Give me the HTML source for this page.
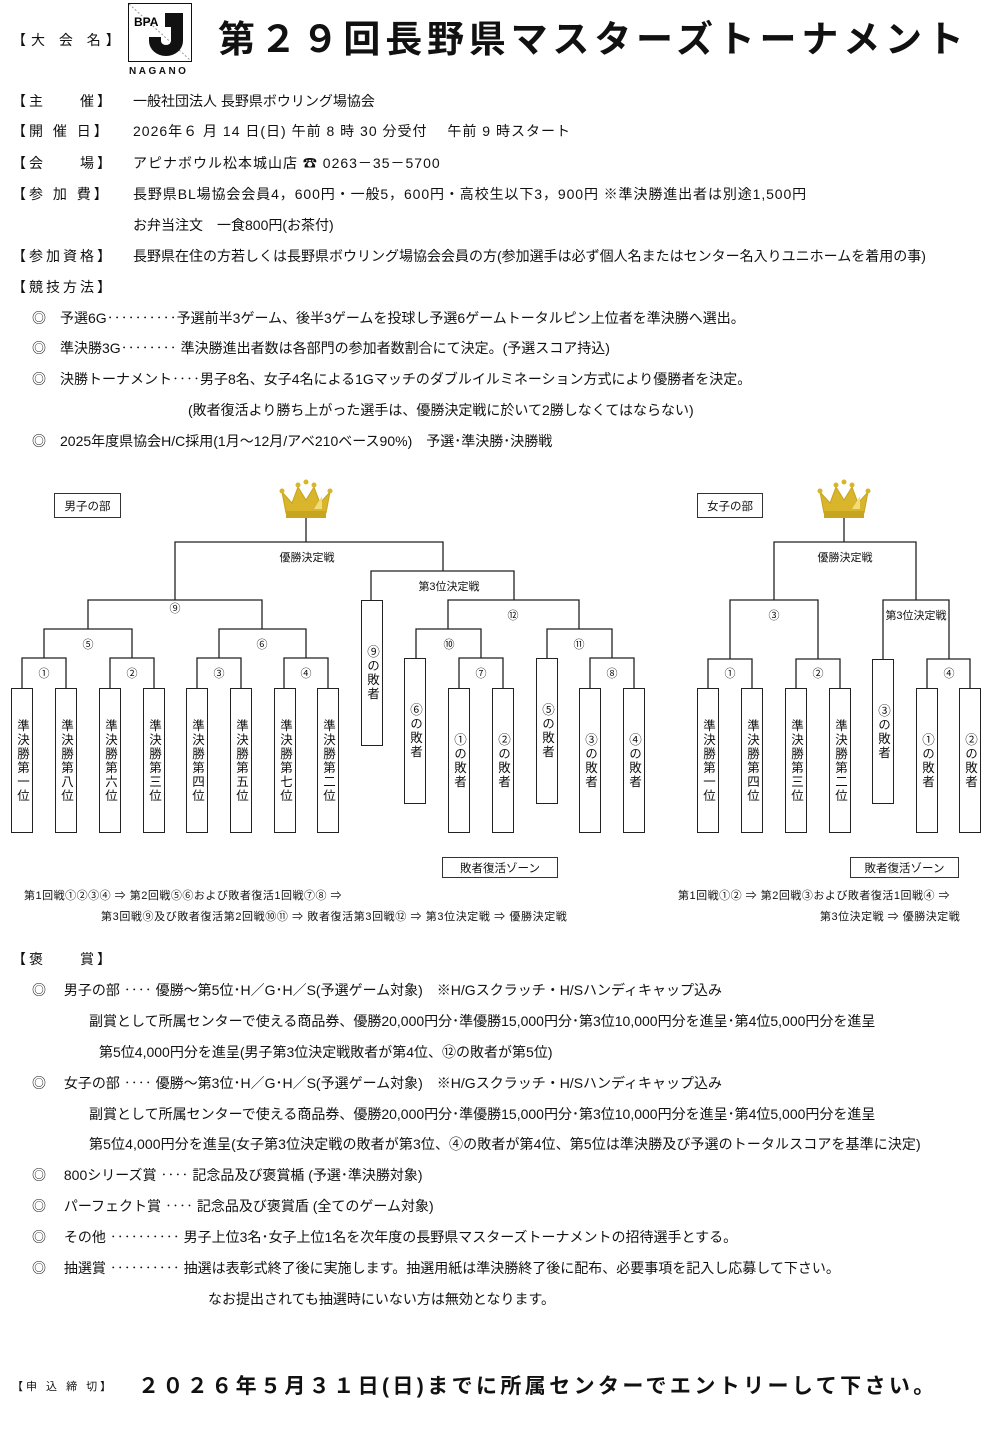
<!DOCTYPE html>
<html><head><meta charset="utf-8"><style>
*{margin:0;padding:0;box-sizing:border-box}
body{width:1000px;height:1442px;background:#fff;position:relative;font-family:"Liberation Sans","Noto Sans CJK JP",sans-serif;color:#111;overflow:hidden}
.t{position:absolute;font-size:14px;line-height:18px;white-space:nowrap}
.h{letter-spacing:3px}
.s{position:absolute;font-size:11px;line-height:14px;white-space:nowrap}
.box{position:absolute;border:1.5px solid #222;background:#fff;display:flex;align-items:center;justify-content:center}
.v{writing-mode:vertical-rl;font-size:12.5px;letter-spacing:1.5px;line-height:14px}
.lbl{position:absolute;border:1.3px solid #333;font-size:11.5px;display:flex;align-items:center;justify-content:center;background:#fff}
</style></head><body>

<div class="t" style="left:12px;top:31px;letter-spacing:5px">【大 会 名】</div>
<div style="position:absolute;left:128px;top:3px;width:64px;height:59px;border:1.5px solid #111">
<svg width="61" height="56" viewBox="0 0 61 56"><line x1="0" y1="0" x2="61" y2="56" stroke="#999" stroke-dasharray="2,2"/>
<text x="5" y="22" font-size="12" font-weight="bold" font-family="Liberation Sans">BPA</text>
<path d="M36 9 h18 v28 a17 15 0 0 1 -34 0 v-4 h12 v4 a5 4 0 0 0 10 0 v-14 h-6z" fill="#111"/>
</svg></div>
<div class="s" style="left:129px;top:65px;font-size:10px;font-weight:bold;letter-spacing:2.5px">NAGANO</div>
<div style="position:absolute;left:218px;top:18px;font-size:37px;font-weight:bold;line-height:44px;letter-spacing:4.8px;white-space:nowrap">第２９回長野県マスターズトーナメント</div>

<div class="t h" style="left:12px;top:92px">【主　　催】</div><div class="t" style="left:133px;top:92px">一般社団法人 長野県ボウリング場協会</div>
<div class="t h" style="left:12px;top:122px">【開 催 日】</div><div class="t" style="left:133px;top:122px;letter-spacing:1px">2026年６ 月 14 日(日) 午前 8 時 30 分受付　 午前 9 時スタート</div>
<div class="t h" style="left:12px;top:154px">【会　　場】</div><div class="t" style="left:133px;top:154px;letter-spacing:1px">アピナボウル松本城山店 ☎ 0263－35－5700</div>
<div class="t h" style="left:12px;top:185px">【参 加 費】</div><div class="t" style="left:133px;top:185px;letter-spacing:0.9px">長野県BL場協会会員4，600円・一般5，600円・高校生以下3，900円 ※準決勝進出者は別途1,500円</div>
<div class="t" style="left:133px;top:216px">お弁当注文　一食800円(お茶付)</div>
<div class="t h" style="left:12px;top:247px">【参加資格】</div><div class="t" style="left:133px;top:247px">長野県在住の方若しくは長野県ボウリング場協会会員の方(参加選手は必ず個人名またはセンター名入りユニホームを着用の事)</div>
<div class="t h" style="left:12px;top:278px">【競技方法】</div>
<div class="t" style="left:32px;top:309px">◎　予選6G‥‥‥‥‥予選前半3ゲーム、後半3ゲームを投球し予選6ゲームトータルピン上位者を準決勝へ選出。</div>
<div class="t" style="left:32px;top:339px">◎　準決勝3G‥‥‥‥ 準決勝進出者数は各部門の参加者数割合にて決定。(予選スコア持込)</div>
<div class="t" style="left:32px;top:370px">◎　決勝トーナメント‥‥男子8名、女子4名による1Gマッチのダブルイルミネーション方式により優勝者を決定。</div>
<div class="t" style="left:188px;top:401px">(敗者復活より勝ち上がった選手は、優勝決定戦に於いて2勝しなくてはならない)</div>
<div class="t" style="left:32px;top:432px">◎　2025年度県協会H/C採用(1月～12月/アベ210ベース90%)　予選･準決勝･決勝戦</div>

<svg style="position:absolute;left:0;top:0" width="1000" height="940">
<g fill="none" stroke="#222" stroke-width="1.3">
<path d="M306 518V542M175 600V542H443V571M371 600V571H514V600M88 629V600H262V629M44 658V629H132V658M219 658V629H306V658M22 688V658H66V688M110 688V658H154V688M197 688V658H241V688M284 688V658H328V688M448 629V600H579V629M416 658V629H481V658M547 658V629H612V658M459 688V658H503V688M590 688V658H634V688"/>
<path d="M844 518V542M774 600V542H916V600M730 659V600H818V659M883 659V600H949V659M708 688V659H752V688M796 688V659H840V688M927 688V659H970V688"/>
</g>
<g font-size="11" text-anchor="middle" fill="#111" font-family="Liberation Sans,Noto Sans CJK JP,sans-serif">
<text x="307" y="561">優勝決定戦</text><text x="449" y="590">第3位決定戦</text>
<text x="175" y="612">⑨</text><text x="88" y="648">⑤</text><text x="262" y="648">⑥</text>
<text x="44" y="677">①</text><text x="132" y="677">②</text><text x="219" y="677">③</text><text x="306" y="677">④</text>
<text x="513" y="619">⑫</text><text x="449" y="648">⑩</text><text x="579" y="648">⑪</text><text x="481" y="677">⑦</text><text x="612" y="677">⑧</text>
<text x="845" y="561">優勝決定戦</text><text x="774" y="619">③</text><text x="916" y="619">第3位決定戦</text>
<text x="730" y="677">①</text><text x="818" y="677">②</text><text x="949" y="677">④</text>
</g>
<g id="cr">
<path d="M282 492 L292 503 L298 487 L306 500 L314 487 L320 503 L330 492 L326 513 H286Z" fill="#d8b52a" stroke="#c8a21c"/>
<rect x="286" y="511" width="40" height="7" fill="#c9a41f"/>
<circle cx="282" cy="491" r="2.5" fill="#d8b52a"/><circle cx="298" cy="485" r="2.5" fill="#d8b52a"/><circle cx="314" cy="485" r="2.5" fill="#d8b52a"/><circle cx="330" cy="491" r="2.5" fill="#d8b52a"/><circle cx="306" cy="482" r="2.5" fill="#d8b52a"/>
<path d="M314 509 L322 496 L322 509Z" fill="#f2dc7a"/>
</g>
<use href="#cr" x="538"/>
</svg>

<div class="lbl" style="left:54px;top:493px;width:67px;height:25px">男子の部</div>
<div class="lbl" style="left:697px;top:493px;width:66px;height:25px">女子の部</div>
<div class="lbl" style="left:442px;top:857px;width:116px;height:21px">敗者復活ゾーン</div>
<div class="lbl" style="left:850px;top:857px;width:109px;height:21px">敗者復活ゾーン</div>

<div class="box" style="left:11px;top:688px;width:22px;height:145px"><span class="v">準決勝第一位</span></div>
<div class="box" style="left:55px;top:688px;width:22px;height:145px"><span class="v">準決勝第八位</span></div>
<div class="box" style="left:99px;top:688px;width:22px;height:145px"><span class="v">準決勝第六位</span></div>
<div class="box" style="left:143px;top:688px;width:22px;height:145px"><span class="v">準決勝第三位</span></div>
<div class="box" style="left:186px;top:688px;width:22px;height:145px"><span class="v">準決勝第四位</span></div>
<div class="box" style="left:230px;top:688px;width:22px;height:145px"><span class="v">準決勝第五位</span></div>
<div class="box" style="left:274px;top:688px;width:22px;height:145px"><span class="v">準決勝第七位</span></div>
<div class="box" style="left:317px;top:688px;width:22px;height:145px"><span class="v">準決勝第二位</span></div>
<div class="box" style="left:361px;top:600px;width:22px;height:146px"><span class="v">⑨の敗者</span></div>
<div class="box" style="left:404px;top:658px;width:22px;height:146px"><span class="v">⑥の敗者</span></div>
<div class="box" style="left:448px;top:688px;width:22px;height:145px"><span class="v">①の敗者</span></div>
<div class="box" style="left:492px;top:688px;width:22px;height:145px"><span class="v">②の敗者</span></div>
<div class="box" style="left:536px;top:658px;width:22px;height:146px"><span class="v">⑤の敗者</span></div>
<div class="box" style="left:579px;top:688px;width:22px;height:145px"><span class="v">③の敗者</span></div>
<div class="box" style="left:623px;top:688px;width:22px;height:145px"><span class="v">④の敗者</span></div>

<div class="box" style="left:697px;top:688px;width:22px;height:145px"><span class="v">準決勝第一位</span></div>
<div class="box" style="left:741px;top:688px;width:22px;height:145px"><span class="v">準決勝第四位</span></div>
<div class="box" style="left:785px;top:688px;width:22px;height:145px"><span class="v">準決勝第三位</span></div>
<div class="box" style="left:829px;top:688px;width:22px;height:145px"><span class="v">準決勝第二位</span></div>
<div class="box" style="left:872px;top:659px;width:22px;height:145px"><span class="v">③の敗者</span></div>
<div class="box" style="left:916px;top:688px;width:22px;height:145px"><span class="v">①の敗者</span></div>
<div class="box" style="left:959px;top:688px;width:22px;height:145px"><span class="v">②の敗者</span></div>

<div class="s" style="left:24px;top:889px;letter-spacing:0.5px">第1回戦①②③④ ⇒ 第2回戦⑤⑥および敗者復活1回戦⑦⑧ ⇒</div>
<div class="s" style="left:101px;top:910px;letter-spacing:0.6px">第3回戦⑨及び敗者復活第2回戦⑩⑪ ⇒ 敗者復活第3回戦⑫ ⇒ 第3位決定戦 ⇒ 優勝決定戦</div>
<div class="s" style="left:678px;top:889px;letter-spacing:0.5px">第1回戦①② ⇒ 第2回戦③および敗者復活1回戦④ ⇒</div>
<div class="s" style="left:820px;top:910px;letter-spacing:0.5px">第3位決定戦 ⇒ 優勝決定戦</div>

<div class="t h" style="left:12px;top:950px">【褒　　賞】</div>
<div class="t" style="left:32px;top:981px">◎　 男子の部 ‥‥ 優勝～第5位･H／G･H／S(予選ゲーム対象)　※H/Gスクラッチ・H/Sハンディキャップ込み</div>
<div class="t" style="left:89px;top:1012px">副賞として所属センターで使える商品券、優勝20,000円分･準優勝15,000円分･第3位10,000円分を進呈･第4位5,000円分を進呈</div>
<div class="t" style="left:99px;top:1043px">第5位4,000円分を進呈(男子第3位決定戦敗者が第4位、⑫の敗者が第5位)</div>
<div class="t" style="left:32px;top:1074px">◎　 女子の部 ‥‥ 優勝～第3位･H／G･H／S(予選ゲーム対象)　※H/Gスクラッチ・H/Sハンディキャップ込み</div>
<div class="t" style="left:89px;top:1105px">副賞として所属センターで使える商品券、優勝20,000円分･準優勝15,000円分･第3位10,000円分を進呈･第4位5,000円分を進呈</div>
<div class="t" style="left:89px;top:1135px;letter-spacing:0.1px">第5位4,000円分を進呈(女子第3位決定戦の敗者が第3位、④の敗者が第4位、第5位は準決勝及び予選のトータルスコアを基準に決定)</div>
<div class="t" style="left:32px;top:1166px">◎　 800シリーズ賞 ‥‥ 記念品及び褒賞楯 (予選･準決勝対象)</div>
<div class="t" style="left:32px;top:1197px">◎　 パーフェクト賞 ‥‥ 記念品及び褒賞盾 (全てのゲーム対象)</div>
<div class="t" style="left:32px;top:1228px">◎　 その他 ‥‥‥‥‥ 男子上位3名･女子上位1名を次年度の長野県マスターズトーナメントの招待選手とする。</div>
<div class="t" style="left:32px;top:1259px">◎　 抽選賞 ‥‥‥‥‥ 抽選は表彰式終了後に実施します。抽選用紙は準決勝終了後に配布、必要事項を記入し応募して下さい。</div>
<div class="t" style="left:208px;top:1290px">なお提出されても抽選時にいない方は無効となります。</div>

<div class="s" style="left:12px;top:1380px;letter-spacing:3px">【申 込 締 切】</div>
<div style="position:absolute;left:138px;top:1373px;font-size:21px;font-weight:bold;line-height:28px;white-space:nowrap;letter-spacing:3.4px">２０２６年５月３１日(日)までに所属センターでエントリーして下さい。</div>
</body></html>
